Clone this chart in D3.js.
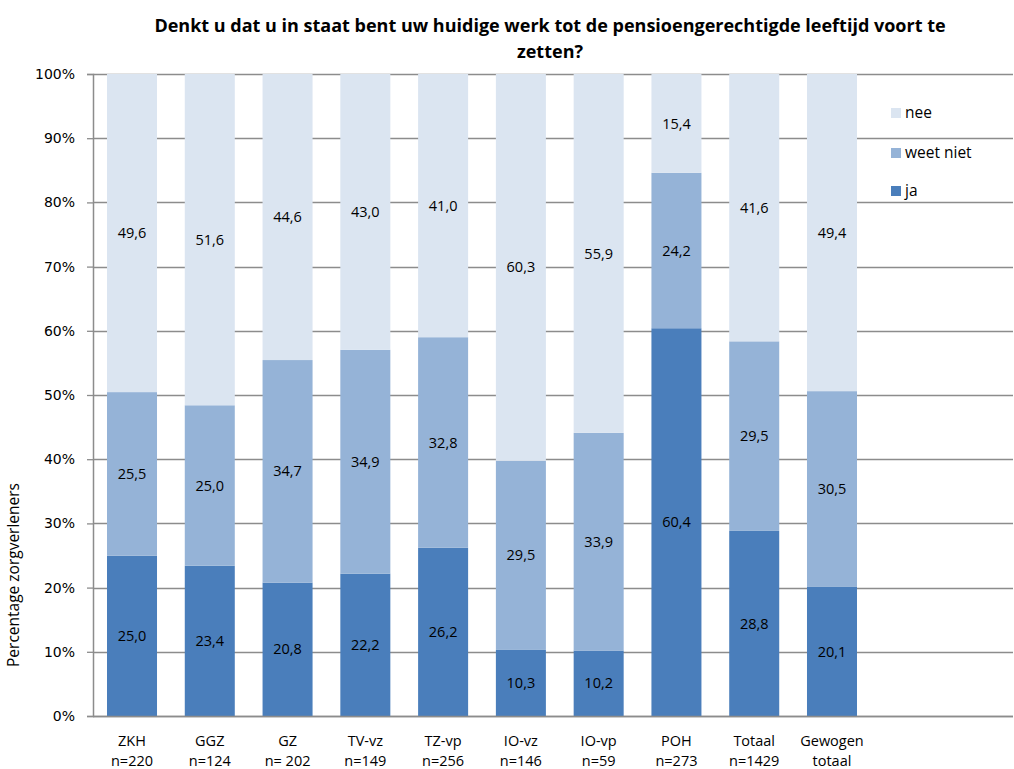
<!DOCTYPE html>
<html>
<head>
<meta charset="utf-8">
<script src="https://cdn.jsdelivr.net/npm/d3@7"></script>
<style>
  html, body { margin: 0; padding: 0; background: #fff; }
  svg { display: block; }
</style>
</head>
<body>
<svg id="chart" width="1014" height="769"></svg>
<script>
// Categories (two-line labels) and stacked percentages per answer
const categories = ["ZKH", "GGZ", "GZ", "TV-vz", "TZ-vp", "IO-vz", "IO-vp", "POH", "Totaal", "Gewogen"];
const subLabels  = ["n=220", "n=124", "n= 202", "n=149", "n=256", "n=146", "n=59", "n=273", "n=1429", "totaal"];
const ja        = [25.0, 23.4, 20.8, 22.2, 26.2, 10.3, 10.2, 60.4, 28.8, 20.1];
const weetNiet  = [25.5, 25.0, 34.7, 34.9, 32.8, 29.5, 33.9, 24.2, 29.5, 30.5];
const nee       = [49.6, 51.6, 44.6, 43.0, 41.0, 60.3, 55.9, 15.4, 41.6, 49.4];
const seriesNames = ["ja", "weet niet", "nee"];
const yTicks = [0, 10, 20, 30, 40, 50, 60, 70, 80, 90, 100];

const colors = { "ja": "#4a7ebb", "weet niet": "#95b3d7", "nee": "#dbe5f1" };
const seriesValues = { "ja": ja, "weet niet": weetNiet, "nee": nee };

const svg = d3.select("#chart");
const plotLeft = 93, plotRight = 1013, plotTop = 74, plotBottom = 716;
const step = 77.8;

const x = d3.scaleBand()
  .domain(categories)
  .range([plotLeft, plotLeft + step * categories.length])
  .paddingInner(0.357)
  .paddingOuter(0.18);

const y = d3.scaleLinear().domain([0, 100]).range([plotBottom, plotTop]);

// 100% stacked: each column normalised to its own total
const rows = categories.map((c, i) => {
  const r = { cat: c };
  seriesNames.forEach(s => r[s] = seriesValues[s][i]);
  r.total = seriesNames.reduce((a, s) => a + r[s], 0);
  return r;
});
const stack = d3.stack().keys(seriesNames)
  .value((d, k) => d[k] / d.total * 100);
const layers = stack(rows);

// Gridlines
svg.append("g")
  .selectAll("line")
  .data(yTicks)
  .join("line")
  .attr("x1", plotLeft).attr("x2", plotRight)
  .attr("y1", d => Math.round(y(d)) + 0.5).attr("y2", d => Math.round(y(d)) + 0.5)
  .attr("stroke", "#8c8c8c").attr("stroke-width", 1.3);

// Bars
layers.forEach(layer => {
  svg.append("g")
    .selectAll("rect")
    .data(layer)
    .join("rect")
    .attr("x", d => x(d.data.cat))
    .attr("width", x.bandwidth())
    .attr("y", d => y(d[1]))
    .attr("height", d => y(d[0]) - y(d[1]))
    .attr("fill", colors[layer.key]);
});

// Data labels in segment centres
const fmt = v => v.toFixed(1).replace(".", ",");
layers.forEach(layer => {
  svg.append("g")
    .selectAll("text")
    .data(layer)
    .join("text")
    .attr("x", d => x(d.data.cat) + x.bandwidth() / 2)
    .attr("y", d => y((d[0] + d[1]) / 2))
    .attr("dy", "0.35em")
    .attr("text-anchor", "middle")
    .attr("font-family", "Open Sans, sans-serif")
    .attr("font-size", 14.5)
    .attr("fill", "#000")
    .text(d => fmt(d.data[layer.key]));
});

// Left axis
const yAxis = d3.axisLeft(y).tickValues(yTicks).tickSize(6).tickPadding(12)
  .tickFormat(d => d + "%");
const gy = svg.append("g").attr("transform", `translate(${plotLeft},0)`).call(yAxis);
gy.select(".domain").attr("stroke", "#8c8c8c").attr("stroke-width", 1.5);
gy.selectAll(".tick line").attr("stroke", "#8c8c8c").attr("stroke-width", 1.3);
gy.selectAll(".tick text")
  .attr("font-family", "DejaVu Sans, sans-serif")
  .attr("font-size", 14).attr("fill", "#000");

// Bottom axis line
svg.append("line")
  .attr("x1", plotLeft).attr("x2", plotRight)
  .attr("y1", plotBottom + 0.5).attr("y2", plotBottom + 0.5)
  .attr("stroke", "#8c8c8c").attr("stroke-width", 1.5);

// Category labels
const xl = svg.append("g");
categories.forEach((c, i) => {
  const cx = x(c) + x.bandwidth() / 2;
  const t = xl.append("text")
    .attr("x", cx).attr("y", 746)
    .attr("text-anchor", "middle")
    .attr("font-family", "Open Sans, sans-serif")
    .attr("font-size", 14.5).attr("fill", "#000");
  t.append("tspan").attr("x", cx).text(c);
  t.append("tspan").attr("x", cx).attr("dy", 19.5).text(subLabels[i]);
});

// Y axis title
svg.append("text")
  .attr("transform", "translate(19,575) rotate(-90)")
  .attr("text-anchor", "middle")
  .attr("font-family", "Open Sans, sans-serif")
  .attr("font-size", 15.5).attr("fill", "#000")
  .text("Percentage zorgverleners");

// Title
const title = svg.append("text")
  .attr("x", 550).attr("y", 32)
  .attr("text-anchor", "middle")
  .attr("font-family", "Open Sans, sans-serif")
  .attr("font-weight", "bold")
  .attr("font-size", 18).attr("fill", "#000");
title.append("tspan").attr("x", 550).text("Denkt u dat u in staat bent uw huidige werk tot de pensioengerechtigde leeftijd voort te");
title.append("tspan").attr("x", 550).attr("dy", 26).text("zetten?");

// Legend (top to bottom: nee, weet niet, ja)
const legendOrder = ["nee", "weet niet", "ja"];
const legendY = [113, 153, 191];
const lg = svg.append("g");
legendOrder.forEach((s, i) => {
  lg.append("rect").attr("x", 891).attr("y", legendY[i] - 5).attr("width", 10).attr("height", 10)
    .attr("fill", colors[s]);
  lg.append("text").attr("x", 905).attr("y", legendY[i]).attr("dy", "0.35em")
    .attr("font-family", "Open Sans, sans-serif")
    .attr("font-size", 15.5).attr("fill", "#000").text(s);
});
</script>
</body>
</html>
